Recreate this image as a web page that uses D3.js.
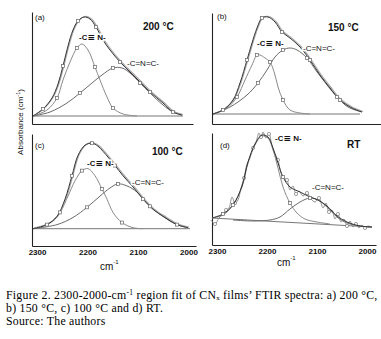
<!DOCTYPE html>
<html>
<head>
<meta charset="utf-8">
<script src="https://cdn.jsdelivr.net/npm/d3@7"></script>
<style>
body { margin: 0; background: #fff; }
svg { display: block; }
.lbl { font-family: "Liberation Sans", Arial, sans-serif; fill: #111; }
.cap { font-family: "Liberation Serif", "Times New Roman", serif; fill: #000; letter-spacing: 0.25px; }
</style>
</head>
<body>
<script>
const tickVals = [2300, 2200, 2100, 2000];

// (a) 200 °C
const aTotal = [[2308,0],[2288,0.07],[2270,0.18],[2258,0.32],[2248,0.50],[2238,0.70],[2228,0.86],[2218,0.95],[2206,0.99],[2194,0.97],[2182,0.89],[2168,0.76],[2154,0.66],[2134,0.54],[2114,0.44],[2094,0.34],[2074,0.24],[2048,0.13],[2028,0.04],[2010,0.01]];
const aCN = [[2308,0],[2280,0.06],[2260,0.18],[2248,0.36],[2234,0.54],[2220,0.68],[2210,0.72],[2198,0.66],[2184,0.49],[2174,0.36],[2160,0.19],[2148,0.08],[2128,0.02],[2100,0]];
const aCNC = [[2308,0],[2274,0.04],[2240,0.13],[2214,0.23],[2190,0.33],[2170,0.41],[2148,0.48],[2130,0.48],[2114,0.43],[2094,0.33],[2074,0.23],[2048,0.11],[2028,0.04],[2010,0.01]];
const aBase = [[2308,0],[2008,0]];

// (b) 150 °C
const bTotal = [[2308,0],[2288,0.04],[2268,0.14],[2254,0.31],[2240,0.54],[2230,0.71],[2220,0.86],[2210,0.96],[2198,0.97],[2184,0.92],[2170,0.82],[2154,0.76],[2134,0.67],[2114,0.54],[2094,0.39],[2074,0.26],[2054,0.14],[2030,0.06],[2010,0.02]];
const bCN = [[2308,0],[2280,0.06],[2260,0.17],[2244,0.34],[2230,0.49],[2220,0.59],[2214,0.59],[2204,0.56],[2194,0.52],[2184,0.39],[2178,0.27],[2168,0.14],[2154,0.04],[2134,0.01],[2114,0]];
const bCNC = [[2308,0],[2274,0.07],[2240,0.19],[2218,0.31],[2200,0.44],[2184,0.57],[2168,0.64],[2154,0.66],[2140,0.64],[2120,0.56],[2100,0.42],[2080,0.29],[2060,0.17],[2038,0.07],[2010,0.02]];
const bBase = [[2308,0],[2014,0]];

// (c) 100 °C
const cTotal = [[2308,0],[2280,0.04],[2260,0.12],[2244,0.29],[2230,0.52],[2218,0.72],[2204,0.82],[2190,0.84],[2178,0.81],[2168,0.76],[2144,0.62],[2128,0.52],[2108,0.41],[2088,0.29],[2068,0.19],[2044,0.11],[2020,0.04],[1998,0.01]];
const cCN = [[2308,0],[2274,0.06],[2254,0.16],[2238,0.32],[2224,0.47],[2210,0.57],[2198,0.59],[2184,0.52],[2170,0.39],[2160,0.29],[2148,0.16],[2130,0.06],[2108,0.01],[2088,0]];
const cCNC = [[2308,0],[2260,0.04],[2228,0.11],[2200,0.21],[2174,0.32],[2154,0.40],[2138,0.44],[2120,0.42],[2100,0.36],[2074,0.22],[2048,0.12],[2020,0.04],[1998,0.01]];
const cBase = [[2308,0],[1994,0]];

// (d) RT
const dTotal = [[2310,0.12],[2288,0.16],[2268,0.25],[2250,0.44],[2238,0.68],[2224,0.86],[2210,0.95],[2198,0.93],[2188,0.82],[2178,0.67],[2168,0.53],[2154,0.43],[2134,0.38],[2114,0.33],[2098,0.30],[2080,0.24],[2060,0.14],[2040,0.08],[2014,0.04],[1990,0.03]];
const dCN = [[2310,0.12],[2288,0.15],[2268,0.25],[2250,0.43],[2238,0.67],[2224,0.85],[2210,0.94],[2198,0.92],[2188,0.80],[2178,0.62],[2168,0.43],[2154,0.27],[2140,0.17],[2124,0.11],[2100,0.08],[2074,0.06]];
const dCNC = [[2268,0.10],[2228,0.09],[2194,0.10],[2174,0.13],[2154,0.21],[2134,0.28],[2114,0.32],[2098,0.30],[2080,0.23],[2060,0.13],[2040,0.07],[2014,0.04],[1990,0.03]];
const dRaw = [[2312,0.10],[2304,0.06],[2296,0.12],[2290,0.15],[2282,0.20],[2276,0.22],[2270,0.33],[2264,0.27],[2258,0.30],[2252,0.42],[2246,0.52],[2240,0.66],[2234,0.72],[2228,0.82],[2222,0.88],[2216,0.97],[2212,0.93],[2208,0.98],[2202,0.92],[2196,0.96],[2190,0.84],[2184,0.76],[2178,0.70],[2172,0.57],[2166,0.52],[2160,0.50],[2154,0.40],[2148,0.44],[2142,0.36],[2136,0.39],[2128,0.34],[2120,0.37],[2112,0.31],[2104,0.28],[2096,0.32],[2088,0.22],[2082,0.27],[2076,0.18],[2070,0.20],[2064,0.11],[2058,0.16],[2052,0.08],[2046,0.11],[2040,0.04],[2034,0.09],[2028,0.03],[2022,0.06],[2016,0.02],[2010,0.05],[2004,0.02],[1998,0.04],[1992,0.03]];
const dBase = [[2310,0.12],[1990,0.03]];

const width = 381, height = 339;
const svg = d3.select('body').append('svg')
    .attr('width', width)
    .attr('height', height);

const panels = [
  { tag:'(a)', temp:'200 °C', xd:[2310,1985], xr:[32,194.5], yd:[-0.08,1.04], yr:[124,12], xEnd:193,
    total:aTotal, cn:aCN, cnc:aCNC, base:aBase, ticks:false,
    tagPos:[35,20], tempPos:[143,30], cnPos:[79,40], cncPos:[127,66] },
  { tag:'(b)', temp:'150 °C', xd:[2310,1974], xr:[212,380], yd:[-0.10,1.01], yr:[124,13], xEnd:381,
    total:bTotal, cn:bCN, cnc:bCNC, base:bBase, ticks:false,
    tagPos:[217,19], tempPos:[328,31], cnPos:[257,46], cncPos:[303,51] },
  { tag:'(c)', temp:'100 °C', xd:[2310,1985], xr:[32,194.5], yd:[-0.17,0.93], yr:[246,134], xEnd:196,
    total:cTotal, cn:cCN, cnc:cCNC, base:cBase, ticks:true,
    tagPos:[35,148], tempPos:[152,155], cnPos:[87,166], cncPos:[132,185] },
  { tag:'(d)', temp:'RT', xd:[2310,1982], xr:[212,376], yd:[-0.15,0.97], yr:[245,133], xEnd:376,
    total:dTotal, cn:dCN, cnc:dCNC, base:dBase, raw:dRaw, ticks:true,
    tagPos:[220,148], tempPos:[347,148], cnPos:[275,141], cncPos:[312,190] }
];

panels.forEach(p => {
  const x = d3.scaleLinear().domain(p.xd).range(p.xr);
  const y = d3.scaleLinear().domain(p.yd).range(p.yr);
  const line = d3.line().x(d => x(d[0])).y(d => y(d[1])).curve(d3.curveCatmullRom);
  const g = svg.append('g');

  // axes
  const xAxis = d3.axisBottom(d3.scaleLinear().domain(p.xd).range([p.xr[0], p.xEnd]))
      .tickValues(p.ticks ? tickVals : []).tickSize(0).tickSizeOuter(0).tickPadding(3)
      .tickFormat(d3.format('d'));
  const ax = g.append('g').attr('transform', `translate(0,${p.yr[0]})`).call(xAxis);
  ax.select('.domain').attr('stroke', '#222').attr('stroke-width', 1.1);
  ax.selectAll('text').attr('class', 'lbl').style('font-size', '8px').style('font-weight', 'bold').attr('fill', '#222');
  g.append('g').attr('transform', `translate(${p.xr[0]},0)`)
    .call(d3.axisLeft(y).tickValues([]).tickSizeOuter(0))
    .select('.domain').attr('stroke', '#222').attr('stroke-width', 1.1);

  g.append('path').datum(p.base).attr('d', line).attr('fill', 'none').attr('stroke', '#777').attr('stroke-width', 1);
  g.append('path').datum(p.cn).attr('d', line).attr('fill', 'none').attr('stroke', '#8a8a8a').attr('stroke-width', 1);
  g.append('path').datum(p.cnc).attr('d', line).attr('fill', 'none').attr('stroke', '#6a6a6a').attr('stroke-width', 1);

  if (p.raw) {
    g.append('path').datum(p.raw).attr('d', line).attr('fill', 'none').attr('stroke', '#888').attr('stroke-width', 0.9);
    g.selectAll('circle.raw').data(p.raw.filter((d, i) => i % 3 === 1)).join('circle')
      .attr('class', 'raw').attr('cx', d => x(d[0])).attr('cy', d => y(d[1])).attr('r', 1.6)
      .attr('fill', '#fff').attr('stroke', '#777').attr('stroke-width', 0.7);
  } else {
    g.append('path').datum(p.total).attr('d', line).attr('fill', 'none').attr('stroke', '#aaa')
      .attr('stroke-width', 1.2).attr('transform', 'translate(1,-0.5)');
  }
  g.append('path').datum(p.total).attr('d', line).attr('fill', 'none').attr('stroke', '#333').attr('stroke-width', 1);

  // square markers
  const marks = [p.total, p.cn, p.cnc].flatMap((s, k) => s.filter((d, i) => i % 3 === (k + 1) % 3 && i > 0 && i < s.length - 1));
  g.selectAll('rect.mk').data(p.raw ? marks.filter((d, i) => i % 3 === 0) : marks).join('rect')
    .attr('class', 'mk').attr('x', d => x(d[0]) - 1.5).attr('y', d => y(d[1]) - 1.5)
    .attr('width', 3).attr('height', 3)
    .attr('fill', '#fff').attr('stroke', '#666').attr('stroke-width', 0.7);

  // labels
  g.append('text').attr('class', 'lbl').attr('x', p.tagPos[0]).attr('y', p.tagPos[1])
    .style('font-size', '8px').text(p.tag);
  g.append('text').attr('class', 'lbl').attr('x', p.tempPos[0]).attr('y', p.tempPos[1])
    .style('font-size', '10px').style('font-weight', 'bold').text(p.temp);
  const cn = g.append('text').attr('class', 'lbl').attr('x', p.cnPos[0]).attr('y', p.cnPos[1])
    .style('font-size', '8px').style('font-weight', 'bold')
    .attr('stroke', '#fff').attr('stroke-width', 3).attr('paint-order', 'stroke');
  cn.append('tspan').text('-C');
  cn.append('tspan').style('font-family', '"DejaVu Sans", sans-serif').style('font-size', '9px').text('≡');
  cn.append('tspan').text(' N-');
  g.append('text').attr('class', 'lbl').attr('x', p.cncPos[0]).attr('y', p.cncPos[1])
    .style('font-size', '8px')
    .attr('stroke', '#fff').attr('stroke-width', 3).attr('paint-order', 'stroke')
    .text('-C=N=C-');
});

// cm-1 labels under the bottom panels
[[100, 270], [277, 266]].forEach(([cx, cy]) => {
  const t = svg.append('text').attr('class', 'lbl').attr('x', cx).attr('y', cy).style('font-size', '10px');
  t.append('tspan').text('cm');
  t.append('tspan').attr('dy', -6).style('font-size', '6px').text('-1');
});

// y label
const yl = svg.append('text').attr('class', 'lbl')
  .attr('transform', 'translate(23,122) rotate(-90)')
  .attr('text-anchor', 'middle').style('font-size', '8px').attr('fill', '#444');
yl.append('tspan').text('Absorbance (cm');
yl.append('tspan').attr('dy', -3).style('font-size', '5.5px').text('-1');
yl.append('tspan').attr('dy', 3).text(')');

// caption
const cap = svg.append('g').attr('class', 'cap').style('font-size', '11.8px');
const l1 = cap.append('text').attr('x', 6).attr('y', 299);
l1.append('tspan').text('Figure 2. 2300-2000-cm');
l1.append('tspan').attr('dy', -4).style('font-size', '7.5px').text('-1');
l1.append('tspan').attr('dy', 4).text(' region fit of CN');
l1.append('tspan').attr('dy', 1.2).style('font-size', '7px').text('x');
l1.append('tspan').attr('dy', -1.2).text(' films’ FTIR spectra: a) 200 °C,');
cap.append('text').attr('x', 6).attr('y', 312).text('b) 150 °C, c) 100 °C and d) RT.');
cap.append('text').attr('x', 6).attr('y', 325).text('Source: The authors');
</script>
</body>
</html>
